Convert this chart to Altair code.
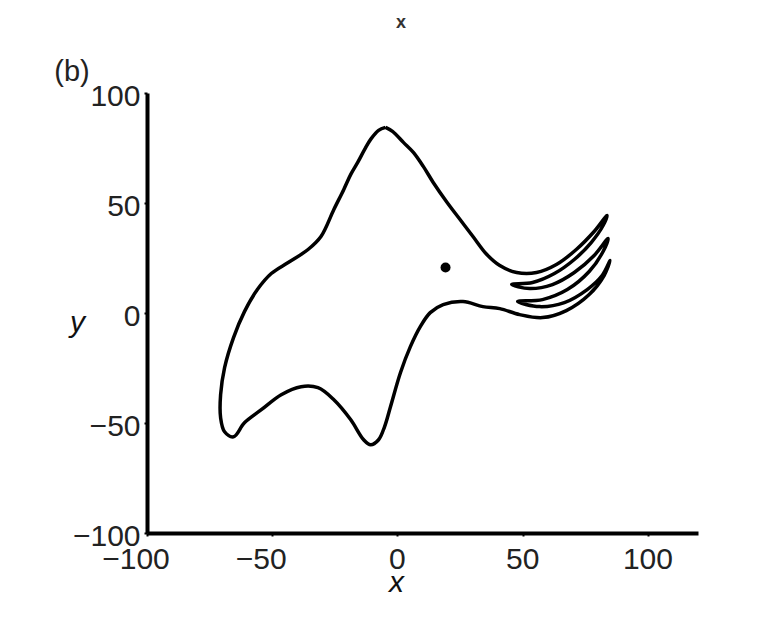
import altair as alt
import pandas as pd

# Outline of the curve (body, trunk strands and back), traced in order
curve_x = [-4.76, -1.98, 2.38, 6.35, 10.31, 14.28, 19.83, 24.99, 30.15, 35.70,
           40.86, 47.60, 55.53, 63.47, 71.40, 78.54, 83.70,
           82.11, 77.35, 70.61, 62.67, 53.95, 45.62,
           52.76, 61.88, 70.61, 78.54, 84.10,
           82.11, 76.56, 67.83, 57.91, 48.00,
           56.72, 66.64, 75.76, 81.71, 84.89,
           82.51, 76.56, 67.43, 57.91, 48.79, 40.86, 34.11, 26.18, 18.25, 13.09,
           9.12, 5.16, 1.19, -2.78, -5.16, -7.54, -10.71, -13.49, -18.64, -25.39,
           -31.73, -38.48, -46.41, -54.35, -61.09, -65.45, -69.02, -70.61, -70.61,
           -69.02, -65.45, -61.09, -55.93, -50.38, -43.63, -35.70, -30.54, -25.39,
           -21.42, -18.64, -15.87, -13.09, -10.71, -7.54, -4.76]
curve_y = [84.39, 82.57, 77.56, 73.01, 66.64, 59.35, 50.25, 42.51, 34.78, 26.58,
           21.58, 18.39, 18.39, 22.03, 28.86, 37.05, 44.33,
           39.78, 32.04, 24.31, 17.93, 13.84, 12.93,
           11.11, 12.93, 18.39, 26.13, 33.86,
           27.95, 18.84, 10.65, 6.10, 5.19,
           2.91, 4.73, 10.65, 17.02, 23.85,
           17.02, 8.38, 1.09, -2.09, -0.73, 2.00, 2.91, 5.19, 3.82, 0.18,
           -6.19, -15.29, -27.13, -42.60, -51.71, -57.62, -59.90, -57.62, -48.52, -39.42,
           -33.96, -33.50, -37.14, -43.97, -49.89, -56.26, -53.98, -47.61, -37.14,
           -24.85, -11.20, 0.64, 10.65, 17.93, 22.94, 28.86, 34.78, 47.06,
           56.17, 63.00, 68.46, 74.37, 78.93, 83.02, 84.39]

dot_x = [19.2]
dot_y = [20.7]

x_ticks = [-100, -50, 0, 50, 100]
x_tick_labels = ["\u2212100", "\u221250", "0", "50", "100"]
y_ticks = [-100, -50, 0, 50, 100]

curve = pd.DataFrame({"x": curve_x, "y": curve_y, "i": list(range(len(curve_x)))})
dot = pd.DataFrame({"x": dot_x, "y": dot_y})
xlab = pd.DataFrame({"x": x_ticks, "t": x_tick_labels})

FONT = "Liberation Sans"
LABEL_SIZE = 30
xscale = alt.Scale(domain=[-100, 120], nice=False, zero=False)
yscale = alt.Scale(domain=[-100, 100], nice=False, zero=False)

xaxis = alt.Axis(
    values=x_ticks, title="x", grid=False, labels=False,
    domainColor="black", domainWidth=4,
    tickColor="black", tickSize=3, tickWidth=2,
    titleFont=FONT, titleFontStyle="italic", titleFontWeight="normal",
    titleFontSize=30, titleColor="#111", titleX=249, titleY=58,
    titleAlign="center", titleBaseline="alphabetic", titleAngle=0,
)
yaxis = alt.Axis(
    values=y_ticks, title="y", grid=False,
    domainColor="black", domainWidth=4,
    tickColor="black", tickSize=3, tickWidth=2,
    labelFont=FONT, labelFontSize=LABEL_SIZE, labelColor="#222", labelPadding=4,
    labelOffset=3, labelFlush=False, labelOverlap=False,
    titleFont=FONT, titleFontStyle="italic", titleFontWeight="normal",
    titleFontSize=30, titleColor="#111", titleX=-70, titleY=238,
    titleAlign="center", titleBaseline="alphabetic", titleAngle=0,
)

line = alt.Chart(curve).mark_line(
    color="black", strokeWidth=3.5, strokeJoin="round", interpolate="catmull-rom"
).encode(
    x=alt.X("x:Q", scale=xscale, axis=xaxis),
    y=alt.Y("y:Q", scale=yscale, axis=yaxis),
    order="i:Q",
)

eye = alt.Chart(dot).mark_circle(color="black", size=100, opacity=1).encode(
    x=alt.X("x:Q", scale=xscale),
    y=alt.Y("y:Q", scale=yscale),
)

xlabels_neg = alt.Chart(xlab).transform_filter("datum.x < 0").mark_text(
    font=FONT, fontSize=LABEL_SIZE, color="#222", align="center", baseline="top", dx=-11
).encode(x=alt.X("x:Q", scale=xscale), y=alt.value(452), text="t:N")

xlabels_pos = alt.Chart(xlab).transform_filter("datum.x >= 0").mark_text(
    font=FONT, fontSize=LABEL_SIZE, color="#222", align="center", baseline="top"
).encode(x=alt.X("x:Q", scale=xscale), y=alt.value(452), text="t:N")

label_b = alt.Chart(pd.DataFrame({"t": ["(b)"]})).mark_text(
    font=FONT, fontSize=29, color="#222", align="center", baseline="middle"
).encode(text="t:N", x=alt.value(-75), y=alt.value(-21))

label_top = alt.Chart(pd.DataFrame({"t": ["x"]})).mark_text(
    font=FONT, fontSize=18, fontWeight="bold", color="#333", align="center", baseline="middle"
).encode(text="t:N", x=alt.value(254), y=alt.value(-70))

chart = alt.layer(line, eye, xlabels_neg, xlabels_pos, label_b, label_top).properties(
    width=551, height=440,
    autosize=alt.AutoSizeParams(type="none"),
    padding={"left": 139, "top": 85, "right": 40, "bottom": 70},
).configure_view(stroke=None)

chart.save("out.html", embed_options={"renderer": "svg", "actions": False})
